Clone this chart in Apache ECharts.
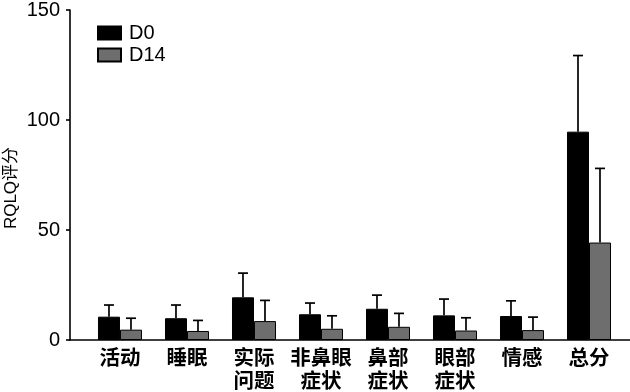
<!DOCTYPE html>
<html>
<head>
<meta charset="utf-8">
<script src="https://cdn.jsdelivr.net/npm/echarts@6/dist/echarts.min.js"></script>
<style>html,body{margin:0;padding:0;background:#fff}#c{width:630px;height:392px}</style>
</head>
<body>
<div id="c"></div>
<script>
const categories = ['活动', '睡眠', '实际\n问题', '非鼻眼\n症状', '鼻部\n症状', '眼部\n症状', '情感', '总分'];
const seriesNames = ['D0', 'D14'];
const d0Mean = [10.6, 9.9, 19.4, 11.7, 14.2, 11.2, 10.9, 94.7];
const d0Err  = [5.3, 6.0, 11.0, 5.1, 6.2, 7.4, 6.9, 34.6];
const d14Mean = [4.7, 4.1, 8.6, 5.1, 6.0, 4.3, 4.5, 44.3];
const d14Err  = [5.2, 4.8, 9.4, 5.9, 6.1, 5.8, 5.9, 33.7];

const BAR_W = 22;
const chart = echarts.init(document.getElementById('c'), null, {renderer: 'canvas'});

function errSeries(means, errs, dx) {
  return {
    type: 'custom',
    silent: true,
    z: 1,
    encode: {x: 0, y: 2},
    data: means.map((m, i) => [i, m, m + errs[i]]),
    renderItem: function (params, api) {
      const i = api.value(0);
      const p0 = api.coord([i, api.value(1)]);
      const p1 = api.coord([i, api.value(2)]);
      const x = p0[0] + dx;
      const st = {stroke: '#000', lineWidth: 1.7};
      return {
        type: 'group',
        children: [
          {type: 'line', shape: {x1: x, y1: p0[1], x2: x, y2: p1[1]}, style: st},
          {type: 'line', shape: {x1: x - 5, y1: p1[1], x2: x + 5, y2: p1[1]}, style: st}
        ]
      };
    }
  };
}

chart.setOption({
  animation: false,
  backgroundColor: '#fff',
  grid: {left: 70, right: 0, top: 10, bottom: 52, outerBoundsMode: 'none', containLabel: false},
  legend: {
    orient: 'vertical', left: 92, top: 18,
    itemWidth: 23, itemHeight: 13, itemGap: 2,
    icon: 'rect',
    data: seriesNames,
    textStyle: {fontFamily: 'Liberation Sans', fontSize: 20, color: '#000', padding: [0, 0, 0, 3]}
  },
  xAxis: {
    type: 'value',
    min: -0.746, max: 7.612,
    axisLine: {show: true, onZero: false, lineStyle: {color: '#000', width: 1.6}},
    axisTick: {show: false},
    splitLine: {show: false},
    axisLabel: {
      customValues: categories.map((c, i) => i),
      formatter: v => categories[Math.round(v)],
      fontFamily: 'Noto Sans CJK SC', fontWeight: 'bold', fontSize: 20.5, lineHeight: 23, color: '#000',
      margin: 6, verticalAlign: 'top'
    }
  },
  yAxis: {
    type: 'value', min: 0, max: 150, interval: 50,
    name: 'RQLQ评分', nameLocation: 'middle', nameGap: 50, nameMoveOverlap: false,
    nameTextStyle: {fontFamily: 'Liberation Sans, Noto Sans CJK SC', fontSize: 17, color: '#000', padding: [0, 26, 0, 0]},
    axisLine: {show: true, onZero: false, lineStyle: {color: '#000', width: 1.6}},
    axisTick: {show: true, inside: false, length: 4, lineStyle: {color: '#000', width: 1.6}},
    splitLine: {show: false},
    axisLabel: {fontFamily: 'Liberation Sans', fontSize: 20, color: '#000', margin: 10}
  },
  series: [
    {
      name: seriesNames[0], type: 'bar', barWidth: BAR_W, barGap: '0%', z: 2,
      itemStyle: {color: '#000', borderColor: '#000', borderWidth: 1},
      data: d0Mean.map((v, i) => [i, v])
    },
    {
      name: seriesNames[1], type: 'bar', barWidth: BAR_W, barGap: '0%', z: 2,
      itemStyle: {color: '#6e6e6e', borderColor: '#000', borderWidth: 1},
      data: d14Mean.map((v, i) => [i, v])
    },
    errSeries(d0Mean, d0Err, -BAR_W / 2),
    errSeries(d14Mean, d14Err, BAR_W / 2)
  ]
});
</script>
</body>
</html>
